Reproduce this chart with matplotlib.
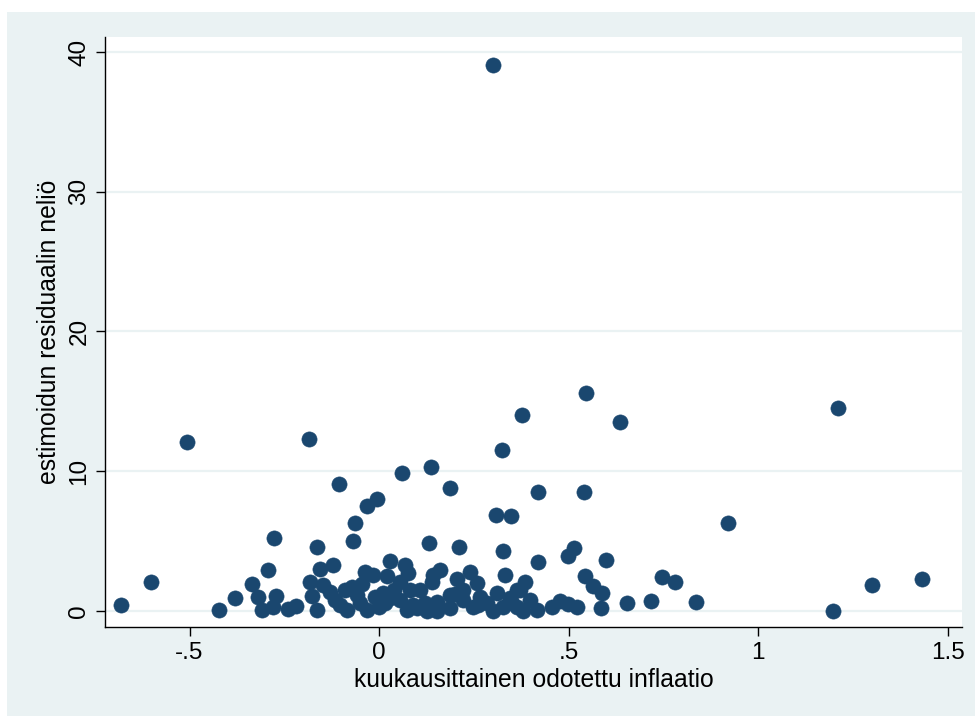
"""
Odotettu inflaatio vs. estimoidun residuaalin neliö - hajontakuvio (Stata-tyyli)
"""
import matplotlib
matplotlib.use("Agg")
import matplotlib.pyplot as plt
from matplotlib.patches import Rectangle

plt.rcParams["font.family"] = ["Liberation Sans", "DejaVu Sans"]

# ===== data (luettu kuvasta) =====
inflaatio = [
    0.300, -0.507, -0.185, 0.546, 0.377, 0.636, 1.211, 0.325, 0.137, 0.061,
    -0.106, 0.187, 0.420, 0.541, -0.005, -0.032, 0.309, 0.348, 0.921, -0.063,
    -0.277, -0.069, 0.132, 0.211, -0.164, 0.327, 0.515, 0.499, 0.420, 0.599,
    0.029, 0.069, -0.121, -0.156, -0.293,
    -0.681, -0.602, -0.422, -0.380, -0.335, -0.320, -0.310, -0.272, -0.280, -0.240,
    -0.220, -0.182, -0.177, -0.164, -0.148, -0.129, -0.116, -0.103, -0.084, -0.071,
    -0.058, -0.037, -0.016, -0.032, -0.050, -0.011, 0.016, 0.000, 0.010, 0.055,
    0.077, 0.055, 0.082, 0.108, 0.074, 0.100, 0.127, 0.153, 0.143, 0.140,
    0.161, 0.206, 0.240, 0.258, 0.153, 0.187, 0.222, 0.187, 0.222, 0.248,
    0.266, 0.285, 0.311, 0.346, 0.364, 0.385, 0.327, 0.364, 0.380, 0.300,
    0.332, 0.544, 0.565, 0.588, 0.586, 0.654, 0.718, 0.747, 0.781, 0.836,
    1.198, 1.300, 1.433, 0.398, 0.417, 0.456, 0.477, 0.499, 0.522, 0.372,
    -0.045, 0.040, 0.030, 0.020, -0.090, 0.200, 0.120, 0.090, 0.260, 0.350,
]
residuaali2 = [
    39.1, 12.1, 12.3, 15.6, 14.0, 13.5, 14.5, 11.5, 10.3, 9.85,
    9.1, 8.8, 8.5, 8.5, 8.0, 7.5, 6.9, 6.8, 6.3, 6.3,
    5.2, 5.0, 4.9, 4.6, 4.6, 4.3, 4.5, 3.9, 3.5, 3.65,
    3.6, 3.3, 3.3, 3.0, 2.9,
    0.45, 2.1, 0.1, 0.9, 1.9, 1.0, 0.05, 1.05, 0.3, 0.15,
    0.35, 2.1, 1.1, 0.1, 1.85, 1.35, 0.8, 0.45, 0.1, 1.7,
    1.15, 2.8, 2.6, 0.1, 0.55, 1.0, 0.55, 0.3, 1.3, 2.1,
    2.7, 0.8, 1.5, 1.5, 0.1, 0.2, 0.02, 0.02, 2.6, 2.1,
    2.9, 2.3, 2.8, 2.0, 0.65, 1.15, 1.5, 0.2, 0.8, 0.3,
    1.0, 0.55, 1.3, 0.95, 1.5, 2.1, 0.3, 0.3, 0.02, 0.02,
    2.6, 2.5, 1.8, 1.3, 0.25, 0.55, 0.75, 2.4, 2.1, 0.65,
    0.0, 1.85, 2.3, 0.8, 0.1, 0.3, 0.7, 0.5, 0.3, 1.5,
    1.9, 1.5, 0.9, 2.5, 1.5, 1.2, 0.6, 0.4, 0.4, 0.6,
]

x_ticks = [-0.5, 0, 0.5, 1, 1.5]
x_ticklabels = ["-.5", "0", ".5", "1", "1.5"]
y_ticks = [0, 10, 20, 30, 40]

BG = "#EAF2F3"
NAVY = "#1A476F"

fig = plt.figure(figsize=(9.75, 7.18), dpi=100, facecolor="white")
# Stata-tyylinen taustalaatikko
fig.patches.append(Rectangle((7 / 975, 2 / 718), 1, 704 / 718,
                             transform=fig.transFigure, facecolor=BG,
                             edgecolor="none", zorder=-10))

ax = fig.add_axes([105 / 975, 91 / 718, 857 / 975, 590 / 718])
ax.set_facecolor("white")

ax.scatter(inflaatio, residuaali2, s=120, color=NAVY, edgecolors=NAVY,
           linewidths=0.4, zorder=3, clip_on=False)

ax.set_xlim(-0.723, 1.538)
ax.set_ylim(-1.145, 41.07)

ax.set_xticks(x_ticks)
ax.set_xticklabels(x_ticklabels)
ax.set_yticks(y_ticks)
ax.set_yticklabels([str(v) for v in y_ticks], rotation=90, va="center")

ax.tick_params(axis="both", direction="out", length=6.5, width=1.0,
               labelsize=17.5, colors="black", pad=4)
ax.yaxis.grid(True, color=BG, linewidth=1.6, zorder=0)
ax.xaxis.grid(False)
ax.set_axisbelow(True)

for side in ["top", "right"]:
    ax.spines[side].set_visible(False)
for side in ["left", "bottom"]:
    ax.spines[side].set_linewidth(1.0)
    ax.spines[side].set_color("black")

ax.set_xlabel("kuukausittainen odotettu inflaatio", fontsize=17.8, labelpad=3)
ax.set_ylabel("estimoidun residuaalin neliö", fontsize=17.8, labelpad=5)

plt.savefig("out.png", dpi=100, facecolor=fig.get_facecolor())
